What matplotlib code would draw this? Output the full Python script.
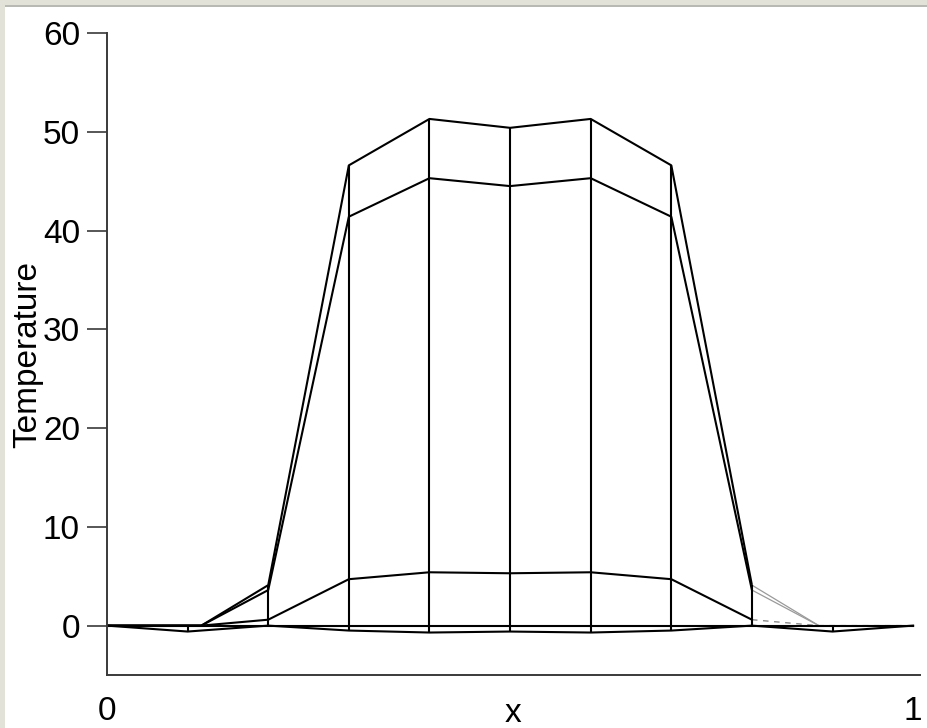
import matplotlib.pyplot as plt
from matplotlib.patches import Rectangle

plt.rcParams['font.family'] = ['Liberation Sans', 'DejaVu Sans']

# mesh nodes along the rod
x_nodes = [0.0, 0.1, 0.2, 0.3, 0.4, 0.5, 0.6, 0.7, 0.8, 0.9, 1.0]
# the upper profiles leave zero a bit inside the first/last element
x_upper = [0.0, 0.117, 0.2, 0.3, 0.4, 0.5, 0.6, 0.7, 0.8, 0.883, 1.0]

# temperature profiles at successive time steps
temp_t0 = [0, 0, 4.1, 46.6, 51.3, 50.4, 51.3, 46.6, 4.1, 0, 0]
temp_t1 = [0, 0, 3.6, 41.4, 45.3, 44.5, 45.3, 41.4, 3.6, 0, 0]
temp_t2 = [0, 0, 0.6, 4.7, 5.4, 5.3, 5.4, 4.7, 0.6, 0, 0]
temp_t3 = [0, -0.6, 0, -0.5, -0.7, -0.6, -0.7, -0.5, 0, -0.6, 0]
temp_t4 = [0, 0, 0, 0, 0, 0, 0, 0, 0, 0, 0]

y_ticks = [0, 10, 20, 30, 40, 50, 60]

fig = plt.figure(figsize=(9.28, 7.28), dpi=100)
fig.patch.set_facecolor('white')

# window frame strips along the top and left edge
fig.patches.append(Rectangle((0, 1 - 5 / 728), 1, 5 / 728, transform=fig.transFigure,
                             facecolor='#e2e2d9', edgecolor='none', zorder=-1))
fig.patches.append(Rectangle((0, 1 - 7 / 728), 1, 2 / 728, transform=fig.transFigure,
                             facecolor='#b9b9b4', edgecolor='none', zorder=-1))
fig.patches.append(Rectangle((0, 0), 5 / 928, 1, transform=fig.transFigure,
                             facecolor='#e2e2d9', edgecolor='none', zorder=-1))

ax = fig.add_axes([107 / 928, 53 / 728, 813 / 928, 642 / 728])

lw = 1.5
# upper profiles: solid up to the 0.8 node, faint beyond
for temps in (temp_t0, temp_t1):
    ax.plot(x_upper[:9], temps[:9], color='black', lw=lw)
    ax.plot(x_upper[8:], temps[8:], color='#9a9a9a', lw=0.9)
ax.plot(x_upper[:9], temp_t2[:9], color='black', lw=lw)
ax.plot(x_upper[8:], temp_t2[8:], color='#8a8a8a', lw=1.0, ls=(0, (4, 4)))

ax.plot(x_nodes, temp_t3, color='black', lw=lw)
ax.plot(x_nodes, temp_t4, color='black', lw=lw)

# lines along the time direction at each node
profiles = [temp_t0, temp_t1, temp_t2, temp_t3, temp_t4]
for i, xv in enumerate(x_nodes):
    vals = [p[i] for p in profiles]
    ax.vlines(xv, min(vals), max(vals), color='black', lw=lw)

ax.set_xlim(0, 1.0085)
ax.set_ylim(-5, 60)

ax.spines['top'].set_visible(False)
ax.spines['right'].set_visible(False)
for s in ('left', 'bottom'):
    ax.spines[s].set_color('#3a3a3a')
    ax.spines[s].set_linewidth(1.4)

fs = 24
ax.set_yticks(y_ticks)
ax.tick_params(axis='y', length=14.5, width=1.2, color='#3a3a3a', pad=5, labelsize=fs)
ax.set_xticks([0, 1])
ax.set_xticklabels(['0', '1'])
ax.tick_params(axis='x', length=0, pad=15, labelsize=fs)

ax.set_xlabel('x', fontsize=fs)
ax.xaxis.set_label_coords(0.5, -0.036)
ax.set_ylabel('Temperature', fontsize=fs)
ax.yaxis.set_label_coords(-0.079, 0.5)

fig.savefig('out.png', dpi=100)
